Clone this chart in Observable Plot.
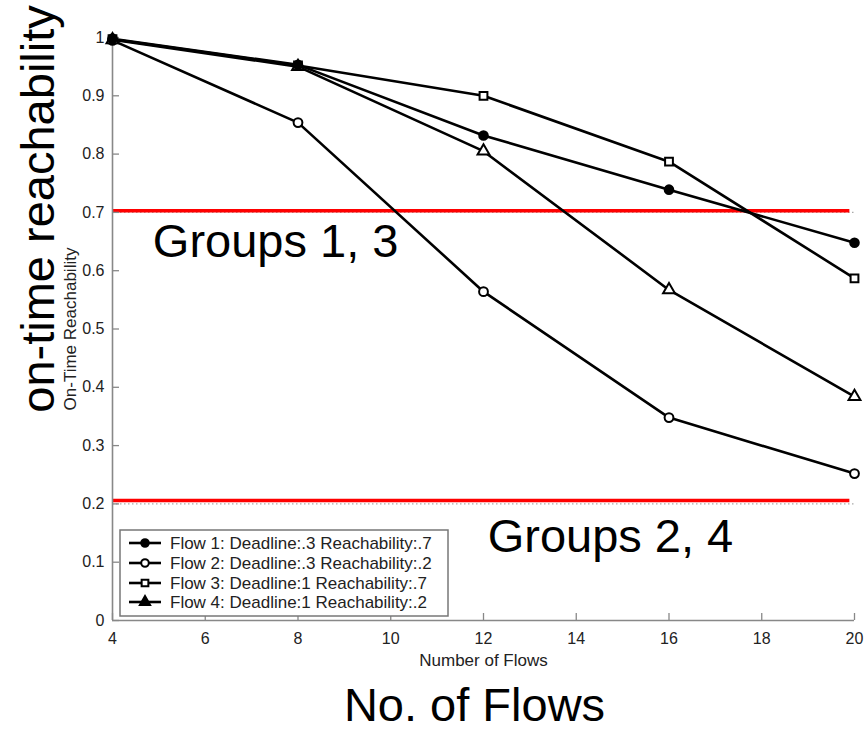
<!DOCTYPE html>
<html>
<head>
<meta charset="utf-8">
<script src="https://cdn.jsdelivr.net/npm/d3@7"></script>
<script src="https://cdn.jsdelivr.net/npm/@observablehq/plot@0.6"></script>
<style>
  body { margin: 0; background: #fff; }
  #wrap { position: relative; width: 865px; height: 731px; font-family: "Liberation Sans", Arial, sans-serif; }
  #legend { position: absolute; left: 119px; top: 529px; }
</style>
</head>
<body>
<div id="wrap"></div>
<script>
// ---- data ----
const flowCounts = [4, 8, 12, 16, 20];
const flow1 = [0.998, 0.953, 0.832, 0.739, 0.648];
const flow2 = [0.995, 0.854, 0.564, 0.348, 0.252];
const flow3 = [0.997, 0.952, 0.900, 0.787, 0.587];
const flow4 = [0.996, 0.950, 0.805, 0.567, 0.384];
const seriesNames = [
  "Flow 1: Deadline:.3 Reachability:.7",
  "Flow 2: Deadline:.3 Reachability:.2",
  "Flow 3: Deadline:1 Reachability:.7",
  "Flow 4: Deadline:1 Reachability:.2"
];
const xTicks = [4, 6, 8, 10, 12, 14, 16, 18, 20];
const yTicks = [0, 0.1, 0.2, 0.3, 0.4, 0.5, 0.6, 0.7, 0.8, 0.9, 1];
const thresholds = [0.703, 0.206];
const guideLevels = [0.7, 0.2];
const groupLabels = ["Groups 1, 3", "Groups 2, 4"];

// ---- build table ----
const seriesValues = [flow1, flow2, flow3, flow4];
const data = [];
seriesNames.forEach((name, s) => {
  flowCounts.forEach((x, i) => data.push({series: name, idx: s, x, y: seriesValues[s][i]}));
});

const symbols = ["circle", "circle", "square", "triangle"];
const filled = [true, false, false, false];

const W = 865, H = 731;
const mL = 112, mR = 11, mT = 37, mB = 111;
const frameW = W - mL - mR, frameH = H - mT - mB;
const FONT = "Liberation Sans, Arial, sans-serif";

// draw flow 1 (filled) last so its markers sit on top, as in the reference
const drawOrder = [1, 2, 3, 0];
const dotMarks = drawOrder.map(s =>
  Plot.dot(data.filter(d => d.idx === s), {
    x: "x", y: "y",
    symbol: () => symbols[s],
    r: s === 0 ? 4.3 : 4.4,
    stroke: "black",
    strokeWidth: 2,
    fill: filled[s] ? "black" : "white"
  })
);

const chart = Plot.plot({
  width: W,
  height: H,
  marginLeft: mL,
  marginRight: mR,
  marginTop: mT,
  marginBottom: mB,
  style: {fontFamily: FONT, fontSize: "16px", color: "#222", background: "white"},
  x: {domain: [4, 20]},
  y: {domain: [0, 1]},
  symbol: {type: "identity"},
  marks: [
    // dotted guide lines
    Plot.ruleY(guideLevels, {y: d => d, stroke: "#aaa", strokeWidth: 1.2, strokeDasharray: "1.5,2.5"}),
    // red threshold lines
    Plot.ruleY(thresholds, {y: d => d, x1: 4, x2: 19.9, stroke: "#ff0000", strokeWidth: 3.5}),
    // axis lines
    Plot.ruleX([4], {x: d => d, y1: 0, y2: 1, stroke: "#888", strokeWidth: 1.6}),
    Plot.ruleY([0], {y: d => d, x1: 4, x2: 20, stroke: "#888", strokeWidth: 1.6}),
    // inward ticks
    Plot.tickX(xTicks, {x: d => d, insetTop: frameH - 7, stroke: "#888", strokeWidth: 1.3}),
    Plot.tickY(yTicks, {y: d => d, insetRight: frameW - 7, stroke: "#888", strokeWidth: 1.3}),
    Plot.axisX({ticks: xTicks, tickSize: 0, tickPadding: 12, label: null, fontSize: 16, tickFormat: d => String(d)}),
    Plot.axisY({ticks: yTicks, tickSize: 0, tickPadding: 8, label: null, fontSize: 16, tickFormat: d => String(d)}),
    // series lines
    Plot.line(data, {x: "x", y: "y", z: "series", stroke: "black", strokeWidth: 2.6}),
    ...dotMarks,
    // small original axis labels
    Plot.text(["Number of Flows"], {text: d => d, frameAnchor: "bottom", dy: 45, lineAnchor: "bottom", fontSize: 17, fill: "#222"}),
    Plot.text(["On-Time Reachability"], {text: d => d, frameAnchor: "left", rotate: -90, dx: -37, lineAnchor: "bottom", textAnchor: "middle", fontSize: 17, fill: "#222"}),
    // big annotation labels
    Plot.text(["on-time reachability"], {text: d => d, frameAnchor: "left", rotate: -90, dx: -59, dy: -120, lineAnchor: "bottom", textAnchor: "middle", fontSize: 47, fill: "black"}),
    Plot.text(["No. of Flows"], {text: d => d, frameAnchor: "bottom", dx: -9, dy: 100, lineAnchor: "bottom", fontSize: 47, fill: "black"}),
    Plot.text([groupLabels[0]], {text: d => d, x: () => 4.87, y: () => 0.623, textAnchor: "start", lineAnchor: "bottom", fontSize: 47, fill: "black"}),
    Plot.text([groupLabels[1]], {text: d => d, x: () => 12.09, y: () => 0.117, textAnchor: "start", lineAnchor: "bottom", fontSize: 47, fill: "black"})
  ]
});

const wrap = document.getElementById("wrap");
wrap.appendChild(chart);

// ---- legend (overlay) ----
const lw = 328, lh = 86;
const legend = d3.select(wrap).append("svg")
  .attr("id", "legend").attr("width", lw + 2).attr("height", lh + 2);
legend.append("rect").attr("x", 1).attr("y", 1).attr("width", lw).attr("height", lh)
  .attr("fill", "white").attr("stroke", "#777").attr("stroke-width", 1.5);
const rowY = [14, 34, 54, 73];
const legendSymbols = [d3.symbolCircle, d3.symbolCircle, d3.symbolSquare, d3.symbolTriangle];
const legendFilled = [true, false, false, true];
seriesNames.forEach((name, i) => {
  const g = legend.append("g").attr("transform", `translate(0,${rowY[i]})`);
  g.append("line").attr("x1", 10).attr("x2", 42).attr("y1", 0).attr("y2", 0)
    .attr("stroke", "black").attr("stroke-width", 2.6);
  g.append("path").attr("transform", "translate(26,0)")
    .attr("d", d3.symbol(legendSymbols[i], 45)())
    .attr("fill", legendFilled[i] ? "black" : "white")
    .attr("stroke", "black").attr("stroke-width", 2);
  g.append("text").attr("x", 51).attr("y", 0).attr("dy", "0.36em")
    .attr("font-family", FONT).attr("font-size", 17).attr("fill", "#222")
    .text(name);
});
</script>
</body>
</html>
